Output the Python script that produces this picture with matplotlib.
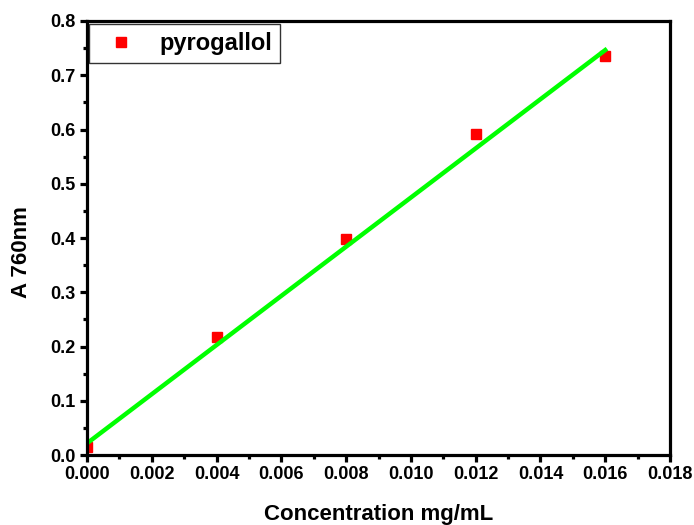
import numpy as np
import matplotlib.pyplot as plt
from matplotlib.ticker import MultipleLocator, FormatStrFormatter

# calibration data
conc = [0.000, 0.004, 0.008, 0.012, 0.016]          # mg/mL
absorb = [0.015, 0.217, 0.399, 0.591, 0.7355]       # A at 760 nm

# linear calibration fit (intercept, slope)
fit_b = 0.0216
fit_m = 45.3

plt.rcParams['font.family'] = ['Liberation Sans', 'DejaVu Sans']
plt.rcParams['font.weight'] = 'bold'

fig = plt.figure(figsize=(6.94, 5.25), dpi=100)
ax = fig.add_axes([0.1254, 0.1333, 0.84, 0.8267])

xfit = np.array([conc[0], conc[-1]])
ax.plot(xfit, fit_b + fit_m * xfit, color='#00ff00', lw=3.2, zorder=3)
ax.plot(conc, absorb, 's', color='red', ms=6.5, mec='red', zorder=2,
        label='pyrogallol')

ax.set_xlim(0, 0.018)
ax.set_ylim(0, 0.8)
ax.xaxis.set_major_locator(MultipleLocator(0.002))
ax.xaxis.set_minor_locator(MultipleLocator(0.001))
ax.yaxis.set_major_locator(MultipleLocator(0.1))
ax.yaxis.set_minor_locator(MultipleLocator(0.05))
ax.xaxis.set_major_formatter(FormatStrFormatter('%.3f'))
ax.yaxis.set_major_formatter(FormatStrFormatter('%.1f'))

for s in ax.spines.values():
    s.set_linewidth(2.3)
    s.set_zorder(4)
ax.tick_params(which='major', direction='out', length=5, width=2.3,
               labelsize=13, pad=3, top=False, right=False)
ax.tick_params(which='minor', direction='out', length=3, width=2.3,
               top=False, right=False)
for lab in ax.get_xticklabels() + ax.get_yticklabels():
    lab.set_fontweight('bold')

ax.set_xlabel('Concentration mg/mL', fontsize=16, fontweight='bold', labelpad=15)
ax.set_ylabel('A 760nm', fontsize=16, fontweight='bold')
ax.yaxis.set_label_coords(-0.094, 0.468)

leg = ax.legend(loc='upper left', bbox_to_anchor=(0.004, 0.994), fontsize=17,
                frameon=True, fancybox=False, shadow=False, borderaxespad=0,
                handletextpad=0.62, borderpad=0.35, markerscale=1.2,
                handlelength=2.0)
leg.get_frame().set_edgecolor('black')
leg.get_frame().set_linewidth(1.0)
for t in leg.get_texts():
    t.set_fontweight('bold')

fig.savefig('out.png', dpi=100)
